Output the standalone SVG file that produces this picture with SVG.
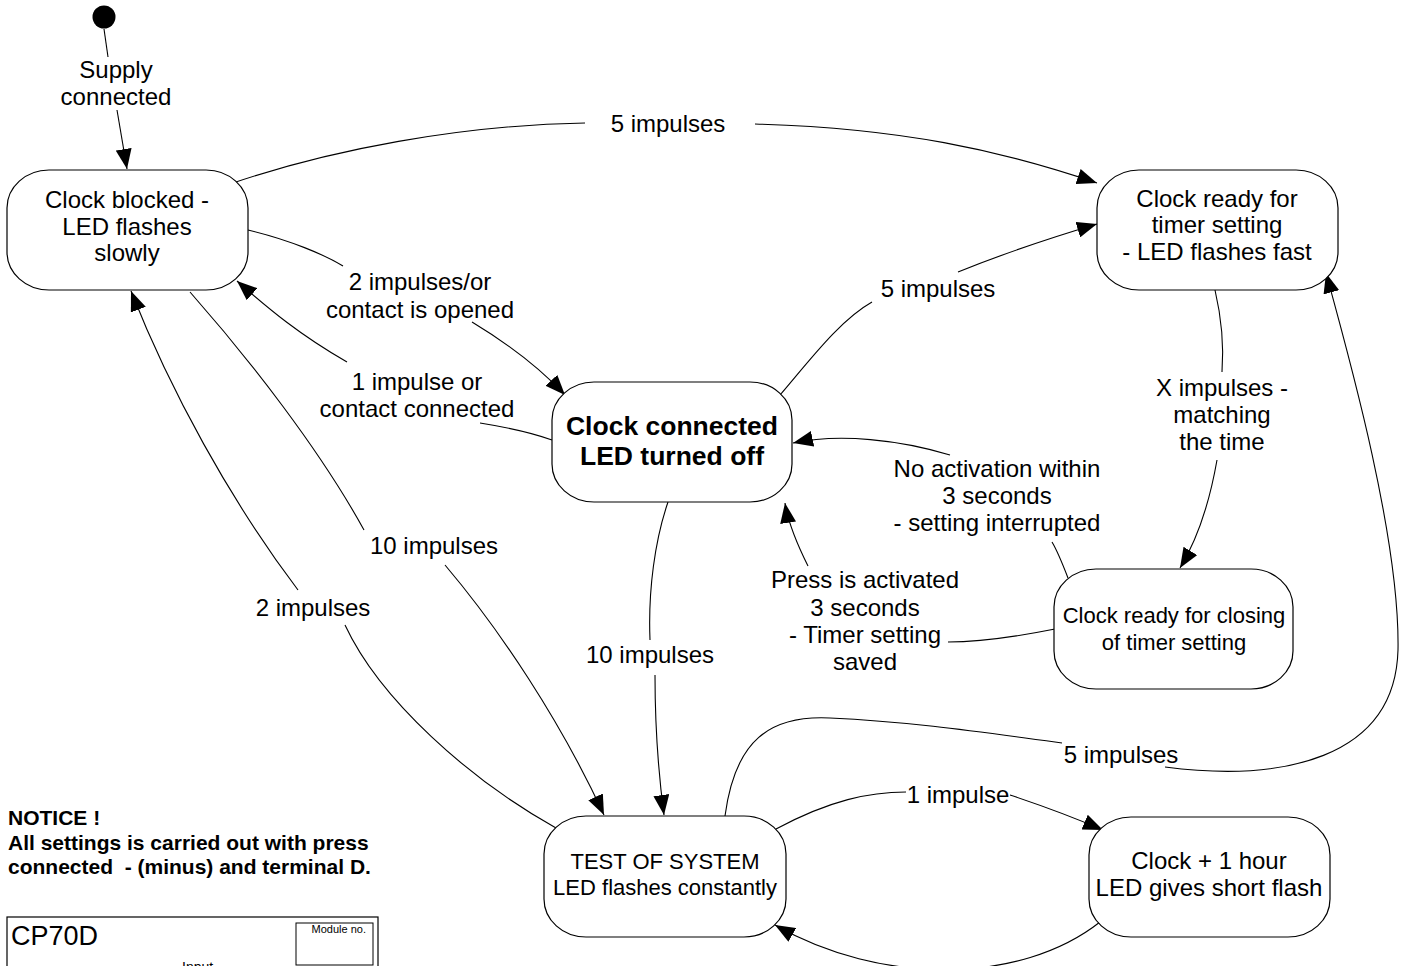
<svg xmlns="http://www.w3.org/2000/svg" width="1409" height="966" viewBox="0 0 1409 966">
<style>
.node{fill:#fff;stroke:#000;stroke-width:1.2}
.t{font-family:"Liberation Sans",Arial,sans-serif;font-size:24px;fill:#000;text-anchor:middle}
.s{font-size:22px}
.b{font-weight:bold;font-size:26.5px}
.c{fill:none;stroke:#000;stroke-width:1.1}
.a{marker-end:url(#ah)}
.n{font-family:"Liberation Sans",Arial,sans-serif;font-weight:bold;font-size:21px;fill:#000;white-space:pre}
</style>
<defs>
<marker id="ah" viewBox="0 0 20 16" refX="20" refY="8" markerWidth="20" markerHeight="16" markerUnits="userSpaceOnUse" orient="auto">
<path d="M0,0 L20,8 L0,16 Z" fill="#000"/>
</marker>
</defs>
<rect width="1409" height="966" fill="#fff"/>

<g id="connectors">
<path class="c" d="M104,29 L108,57"/>
<path class="c a" d="M117,110 L127,169"/>
<path class="c" d="M233,183 C330,150 460,125 585,123"/>
<path class="c a" d="M755,124 C900,128 1000,150 1097,183"/>
<path class="c" d="M248,230 C290,240 325,255 343,266"/>
<path class="c a" d="M472,322 C510,345 540,368 565,395"/>
<path class="c" d="M552,440 C530,432 505,427 480,423"/>
<path class="c a" d="M347,362 C300,335 270,310 237,281"/>
<path class="c" d="M780,395 C810,360 840,320 872,302"/>
<path class="c a" d="M958,272 C1000,255 1050,238 1097,224"/>
<path class="c" d="M1215,290 C1222,320 1224,345 1222,372"/>
<path class="c a" d="M1217,460 C1210,500 1197,540 1180,568"/>
<path class="c" d="M1068,578 C1063,565 1058,552 1052,542"/>
<path class="c a" d="M950,455 C900,440 840,433 793,443"/>
<path class="c" d="M1055,629 C1010,638 980,642 948,642"/>
<path class="c a" d="M808,566 C795,540 788,522 785,503"/>
<path class="c" d="M668,502 C655,540 648,590 650,640"/>
<path class="c a" d="M655,675 C655,720 658,770 664,815"/>
<path class="c" d="M190,292 C250,360 320,450 364,530"/>
<path class="c a" d="M445,565 C500,630 560,720 604,815"/>
<path class="c" d="M556,828 C470,780 380,700 345,625"/>
<path class="c a" d="M298,590 C230,500 170,390 131,291"/>
<path class="c" d="M776,829 C830,800 870,792 906,792"/>
<path class="c a" d="M1010,795 C1040,805 1075,818 1103,830"/>
<path class="c a" d="M1100,922 C1020,985 880,985 775,925"/>
<path class="c" d="M725,816 C735,740 770,715 830,718 C920,722 1000,735 1062,743"/>
<path class="c a" d="M1165,767 C1280,782 1395,760 1398,650 C1400,540 1350,360 1326,273"/>
</g>

<g id="labels">
<text class="t" x="116" y="78">Supply</text>
<text class="t" x="116" y="105">connected</text>
<text class="t" x="668" y="132">5 impulses</text>
<text class="t" x="420" y="290">2 impulses/or</text>
<text class="t" x="420" y="318">contact is opened</text>
<text class="t" x="417" y="390">1 impulse or</text>
<text class="t" x="417" y="417">contact connected</text>
<text class="t" x="938" y="297">5 impulses</text>
<text class="t" x="1222" y="396">X impulses -</text>
<text class="t" x="1222" y="423">matching</text>
<text class="t" x="1222" y="450">the time</text>
<text class="t" x="997" y="477">No activation within</text>
<text class="t" x="997" y="504">3 seconds</text>
<text class="t" x="997" y="531">- setting interrupted</text>
<text class="t" x="865" y="588">Press is activated</text>
<text class="t" x="865" y="616">3 seconds</text>
<text class="t" x="865" y="643">- Timer setting</text>
<text class="t" x="865" y="670">saved</text>
<text class="t" x="650" y="663">10 impulses</text>
<text class="t" x="434" y="554">10 impulses</text>
<text class="t" x="313" y="616">2 impulses</text>
<text class="t" x="958" y="803">1 impulse</text>
<text class="t" x="1121" y="763">5 impulses</text>
</g>

<g id="start">
<circle cx="104" cy="17" r="11.5" fill="#000"/>
</g>

<g id="n_blocked">
<rect class="node" x="7" y="170" width="241" height="120" rx="42" ry="38"/>
<text class="t" x="127" y="208">Clock blocked -</text>
<text class="t" x="127" y="235">LED flashes</text>
<text class="t" x="127" y="261">slowly</text>
</g>

<g id="n_ready">
<rect class="node" x="1097" y="170" width="241" height="120" rx="42" ry="38"/>
<text class="t" x="1217" y="207">Clock ready for</text>
<text class="t" x="1217" y="233">timer setting</text>
<text class="t" x="1217" y="260">- LED flashes fast</text>
</g>

<g id="n_connected">
<rect class="node" x="552" y="382" width="240" height="120" rx="42" ry="38"/>
<text class="t b" x="672" y="435">Clock connected</text>
<text class="t b" x="672" y="465">LED turned off</text>
</g>

<g id="n_closing">
<rect class="node" x="1054" y="569" width="239" height="120" rx="42" ry="38"/>
<text class="t s" x="1174" y="623">Clock ready for closing</text>
<text class="t s" x="1174" y="650">of timer setting</text>
</g>

<g id="n_test">
<rect class="node" x="544" y="816" width="242" height="121" rx="42" ry="38"/>
<text class="t s" x="665" y="869">TEST OF SYSTEM</text>
<text class="t s" x="665" y="895">LED flashes constantly</text>
</g>

<g id="n_hour">
<rect class="node" x="1089" y="817" width="241" height="120" rx="42" ry="38"/>
<text class="t" x="1209" y="869">Clock + 1 hour</text>
<text class="t" x="1209" y="896">LED gives short flash</text>
</g>

<g id="notice">
<text class="n" x="8" y="825">NOTICE !</text>
<text class="n" x="8" y="850">All settings is carried out with press</text>
<text class="n" x="8" y="874">connected  - (minus) and terminal D.</text>
</g>

<g id="titleblock">
<rect x="7" y="917" width="371" height="80" fill="none" stroke="#000" stroke-width="1.2"/>
<rect x="296" y="923" width="77" height="42" fill="none" stroke="#000" stroke-width="1"/>
<text x="11" y="945" font-family="'Liberation Sans',Arial,sans-serif" font-size="27">CP70D</text>
<text x="366" y="933" font-family="'Liberation Sans',Arial,sans-serif" font-size="11" text-anchor="end">Module no.</text>
<text x="182" y="972" font-family="'Liberation Sans',Arial,sans-serif" font-size="14">Input</text>
</g>
</svg>
